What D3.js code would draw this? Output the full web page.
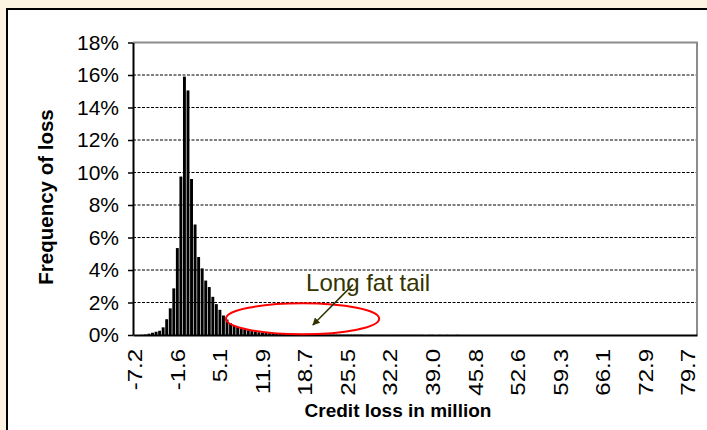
<!DOCTYPE html>
<html>
<head>
<meta charset="utf-8">
<script src="https://cdn.jsdelivr.net/npm/d3@7"></script>
<style>
  html, body { margin: 0; padding: 0; background: #fcf4e0; }
  svg { display: block; font-family: "Liberation Sans", Arial, sans-serif; }
</style>
</head>
<body>
<svg id="chart" width="707" height="430"></svg>
<script>
// Frequency of each credit-loss bucket, in percent
const lossFreq = [
  0, 0, 0.01,
  0.03, 0.08, 0.14, 0.2, 0.26, 0.47, 0.97, 1.64, 2.87, 5.35,
  9.75, 15.9, 15.05, 9.6,
  6.8, 4.8, 4.1, 3.35, 2.95, 2.35, 1.9, 1.55, 1.2, 0.95, 0.72, 0.57, 0.47, 0.4,
  0.35, 0.29, 0.24, 0.2, 0.17, 0.15, 0.13, 0.11, 0.1, 0.09, 0.08, 0.07, 0.07, 0.06, 0.05, 0.05, 0.05, 0.04, 0.04, 0.04,
  0.03, 0.03, 0.03, 0.03, 0.03, 0.02, 0.02, 0.02, 0.02, 0.02, 0.02, 0.02, 0.02, 0.02, 0.01, 0.01, 0.01, 0.01, 0.01, 0.01,
  0.01, 0.01, 0.01, 0.01, 0.01, 0.01, 0.01, 0.01, 0.01, 0.01, 0.01, 0, 0.01, 0.01, 0, 0.01, 0, 0.01, 0, 0,
  0.01, 0, 0, 0, 0, 0, 0, 0, 0, 0, 0, 0, 0, 0, 0, 0, 0, 0, 0, 0,
  0, 0, 0, 0, 0, 0, 0, 0, 0, 0, 0, 0, 0, 0, 0, 0, 0, 0, 0, 0,
  0, 0, 0, 0, 0, 0, 0, 0, 0, 0, 0, 0, 0, 0, 0, 0, 0, 0, 0, 0,
  0, 0, 0, 0, 0, 0, 0, 0
];

// Category labels shown on the loss axis (one every twelve buckets)
const tickLabels = ["-7.2", "-1.6", "5.1", "11.9", "18.7", "25.5", "32.2",
                    "39.0", "45.8", "52.6", "59.3", "66.1", "72.9", "79.7"];
const labelEvery = 12;

// Frequency axis ticks, in percent
const yTicks = [0, 2, 4, 6, 8, 10, 12, 14, 16, 18];

const W = 707, H = 430;
const plot = { left: 133, top: 42.5, right: 697, bottom: 335 };
const ink = "#333300";
const font = "'Liberation Sans', Arial, sans-serif";

const svg = d3.select("#chart");

// page background and white chart panel
svg.append("rect").attr("width", W).attr("height", H).attr("fill", "#fcf4e0");
svg.append("rect")
  .attr("x", 7).attr("y", 9).attr("width", W + 10).attr("height", H + 10)
  .attr("fill", "#ffffff").attr("stroke", "#000").attr("stroke-width", 2);

const cats = d3.range(lossFreq.length);
const x = d3.scaleBand().domain(cats)
  .range([plot.left, plot.right])
  .paddingInner(0.18).paddingOuter(0.09);
const y = d3.scaleLinear().domain([0, 18]).range([plot.bottom, plot.top]);

// dashed horizontal gridlines
svg.append("g").selectAll("line")
  .data(yTicks.filter(v => v > 0 && v < 18))
  .join("line")
  .attr("x1", plot.left).attr("x2", plot.right)
  .attr("y1", d => y(d)).attr("y2", d => y(d))
  .attr("stroke", "#000").attr("stroke-width", 1.1)
  .attr("stroke-dasharray", "3,1.5");

// grey frame on top and right of plot area
svg.append("path")
  .attr("d", `M${plot.left},${y(18)}H${plot.right}V${plot.bottom}`)
  .attr("fill", "none").attr("stroke", "#8c8c8c").attr("stroke-width", 2);

// histogram bars
svg.append("g").selectAll("rect")
  .data(lossFreq)
  .join("rect")
  .attr("x", (d, i) => x(i))
  .attr("width", x.bandwidth())
  .attr("y", d => y(d))
  .attr("height", d => y(0) - y(d))
  .attr("fill", "#000");

// frequency axis
const yAxis = svg.append("g")
  .attr("transform", `translate(${plot.left},0)`)
  .call(d3.axisLeft(y).tickValues(yTicks).tickSize(5).tickSizeOuter(0).tickPadding(9)
    .tickFormat(d => d + "%"));
yAxis.select(".domain").attr("stroke", "#000").attr("stroke-width", 2);
yAxis.selectAll(".tick line").attr("stroke", "#000").attr("stroke-width", 1.5);
yAxis.selectAll(".tick text")
  .attr("fill", "#000").style("font-size", "21px").style("font-family", font);

// loss axis
const xAxis = svg.append("g")
  .attr("transform", `translate(0,${plot.bottom})`)
  .call(d3.axisBottom(x)
    .tickValues(cats.filter(i => i % labelEvery === 0))
    .tickSize(0).tickSizeOuter(0)
    .tickFormat(i => tickLabels[i / labelEvery]));
xAxis.select(".domain").attr("stroke", "#000").attr("stroke-width", 2);
xAxis.selectAll(".tick text")
  .attr("transform", "rotate(-90) translate(-14,0) scale(1.2,1)")
  .attr("x", 0).attr("y", 0).attr("dy", "0.36em")
  .style("text-anchor", "end")
  .attr("fill", "#000").style("font-size", "20px").style("font-family", font);

// axis titles
svg.append("text")
  .attr("transform", `translate(53,197) rotate(-90)`)
  .attr("text-anchor", "middle")
  .style("font-size", "20.5px").style("font-weight", "bold")
  .text("Frequency of loss");

svg.append("text")
  .attr("x", 398).attr("y", 417)
  .attr("text-anchor", "middle")
  .style("font-size", "19px").style("font-weight", "bold")
  .text("Credit loss in million");

// tail annotation: ellipse, label and arrow, placed in bucket / percent units
const catX = c => plot.left + c * x.step();

svg.append("ellipse")
  .attr("cx", catX(47.8)).attr("cy", y(1.0))
  .attr("rx", 21.6 * x.step()).attr("ry", y(0) - y(0.95))
  .attr("fill", "none").attr("stroke", "#ff0000").attr("stroke-width", 2);

svg.append("text")
  .attr("x", catX(48.8)).attr("y", y(2.7))
  .attr("fill", ink).style("font-size", "24px")
  .text("Long fat tail");

svg.append("defs").append("marker")
  .attr("id", "tip").attr("viewBox", "0 0 10 10")
  .attr("refX", 9).attr("refY", 5)
  .attr("markerWidth", 5).attr("markerHeight", 5)
  .attr("orient", "auto")
  .append("path").attr("d", "M0,0L10,5L0,10Z").attr("fill", ink);

svg.append("line")
  .attr("x1", catX(62)).attr("y1", y(3.1))
  .attr("x2", catX(50.7)).attr("y2", y(0.62))
  .attr("stroke", ink).attr("stroke-width", 1.5)
  .attr("marker-end", "url(#tip)");
</script>
</body>
</html>
